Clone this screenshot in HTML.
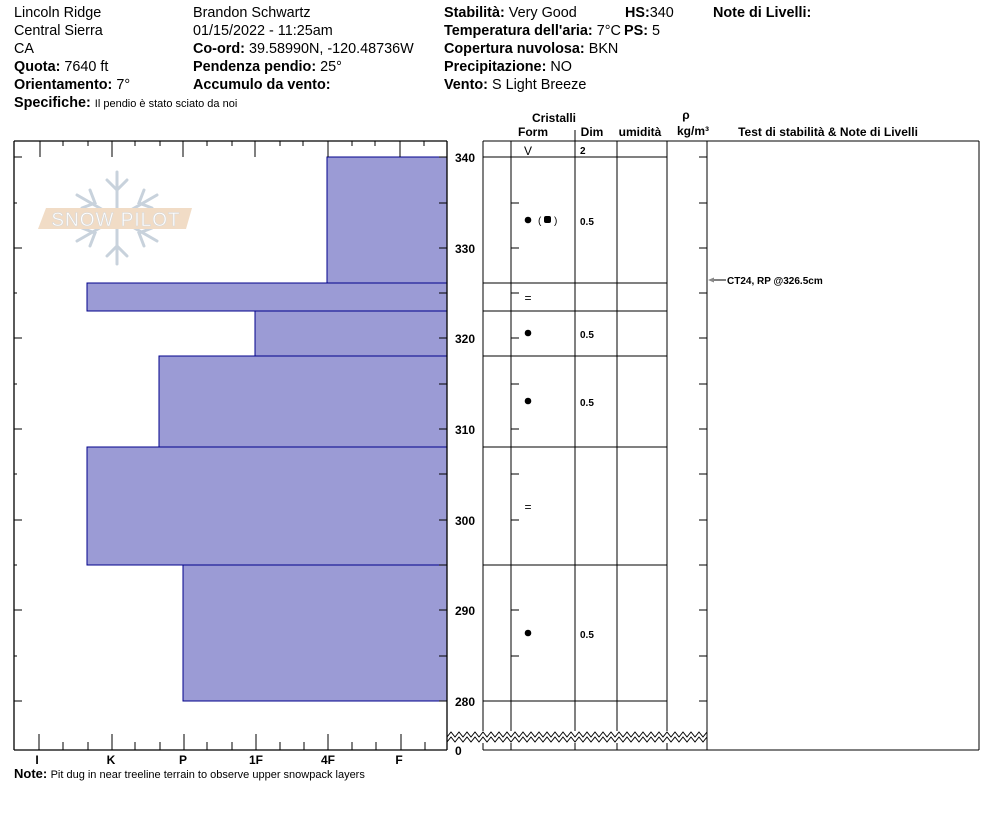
<!DOCTYPE html>
<html><head><meta charset="utf-8"><style>
body{margin:0;background:#fff}
svg{display:block}
text{font-family:"Liberation Sans",Arial,sans-serif;fill:#000}
.h{font-size:14.4px}
.b{font-weight:bold}
.ax{font-size:12px;font-weight:bold}
.s{font-size:10px;font-weight:bold}
</style></head><body>
<svg width="994" height="840" viewBox="0 0 994 840" xmlns="http://www.w3.org/2000/svg">
<g class="h">
<text x="14" y="17" class="h">Lincoln Ridge</text>
<text x="14" y="35" class="h">Central Sierra</text>
<text x="14" y="53" class="h">CA</text>
<text x="14" y="71" class="h"><tspan class="b">Quota:</tspan> 7640 ft</text>
<text x="14" y="89" class="h"><tspan class="b">Orientamento:</tspan> 7°</text>
<text x="14" y="107" class="h"><tspan class="b">Specifiche:</tspan> <tspan style="font-size:11px">Il pendio è stato sciato da noi</tspan></text>
<text x="193" y="17" class="h">Brandon Schwartz</text>
<text x="193" y="35" class="h">01/15/2022 - 11:25am</text>
<text x="193" y="53" class="h"><tspan class="b">Co-ord:</tspan> 39.58990N, -120.48736W</text>
<text x="193" y="71" class="h"><tspan class="b">Pendenza pendio:</tspan> 25°</text>
<text x="193" y="89" class="h"><tspan class="b">Accumulo da vento:</tspan></text>
<text x="444" y="17" class="h"><tspan class="b">Stabilità:</tspan> Very Good</text>
<text x="444" y="35" class="h"><tspan class="b">Temperatura dell'aria:</tspan> 7°C</text>
<text x="444" y="53" class="h"><tspan class="b">Copertura nuvolosa:</tspan> BKN</text>
<text x="444" y="71" class="h"><tspan class="b">Precipitazione:</tspan> NO</text>
<text x="444" y="89" class="h"><tspan class="b">Vento:</tspan>  S Light Breeze</text>
<text x="625" y="17" class="h"><tspan class="b">HS:</tspan>340</text>
<text x="624" y="35" class="h"><tspan class="b">PS:</tspan> 5</text>
<text x="713" y="17" class="h b">Note di Livelli:</text>
</g>
<!-- logo -->
<g stroke="#c8d2dc" stroke-width="3" fill="none" stroke-linecap="round">
<line x1="117" y1="172" x2="117" y2="264"/>
<line x1="77" y1="195" x2="157" y2="241"/>
<line x1="77" y1="241" x2="157" y2="195"/>
<path d="M107 180 L117 190 L127 180 M107 256 L117 246 L127 256 M82 208 L95 203 L90 190 M152 228 L139 233 L144 246 M82 228 L95 233 L90 246 M152 208 L139 203 L144 190"/>
</g>
<polygon points="46,208 192,208 186,229 38,229" fill="#f1dcc6"/>
<text x="116" y="226" text-anchor="middle" style="font-size:19px;fill:#fff;stroke:#d8d8d8;stroke-width:0.6;letter-spacing:1px">SNOW PILOT</text>
<g fill="#9b9bd5" stroke="#00008b" stroke-width="1">
<rect x="327" y="157" width="120" height="126"/>
<rect x="87" y="283" width="360" height="28"/>
<rect x="255" y="311" width="192" height="45"/>
<rect x="159" y="356" width="288" height="91"/>
<rect x="87" y="447" width="360" height="118"/>
<rect x="183" y="565" width="264" height="136"/>
</g>
<g stroke="#000" stroke-width="1.3" fill="none">
<line x1="14" y1="141" x2="447" y2="141"/>
<line x1="14" y1="141" x2="14" y2="750"/>
<line x1="447" y1="141" x2="447" y2="750"/>
<line x1="14" y1="750" x2="447" y2="750"/>
</g>
<g stroke="#000" stroke-width="1">
<path d="M40 141v16M63 141v5M88 141v5M112 141v16M135 141v5M160 141v5M183 141v16M207 141v5M232 141v5M255 141v16M280 141v5M303 141v5M328 141v16M352 141v5M375 141v5M400 141v16M424 141v5"/>
<path d="M39 750v-16M63 750v-8M88 750v-8M112 750v-16M135 750v-8M160 750v-8M184 750v-16M207 750v-8M232 750v-8M256 750v-16M280 750v-8M304 750v-8M328 750v-16M352 750v-8M376 750v-8M401 750v-16M425 750v-8"/>
<path d="M14 157h8M14 203h3M14 248h8M14 293h3M14 338h8M14 384h3M14 429h8M14 474h3M14 520h8M14 565h3M14 610h8M14 656h3M14 701h8
M447 157h-8M447 203h-8M447 248h-8M447 293h-8M447 338h-8M447 384h-8M447 429h-8M447 474h-8M447 520h-8M447 565h-8M447 610h-8M447 656h-8M447 701h-8
M511 157h8M511 203h8M511 248h8M511 293h8M511 338h8M511 384h8M511 429h8M511 474h8M511 520h8M511 565h8M511 610h8M511 656h8M511 701h8
M707 157h-8M707 203h-8M707 248h-8M707 293h-8M707 338h-8M707 384h-8M707 429h-8M707 474h-8M707 520h-8M707 565h-8M707 610h-8M707 656h-8M707 701h-8"/>
</g>
<g class="ax">
<text x="37" y="764" text-anchor="middle" class="ax">I</text>
<text x="111" y="764" text-anchor="middle" class="ax">K</text>
<text x="183" y="764" text-anchor="middle" class="ax">P</text>
<text x="256" y="764" text-anchor="middle" class="ax">1F</text>
<text x="328" y="764" text-anchor="middle" class="ax">4F</text>
<text x="399" y="764" text-anchor="middle" class="ax">F</text>
<text x="455" y="162" class="ax">340</text>
<text x="455" y="253" class="ax">330</text>
<text x="455" y="343" class="ax">320</text>
<text x="455" y="434" class="ax">310</text>
<text x="455" y="525" class="ax">300</text>
<text x="455" y="615" class="ax">290</text>
<text x="455" y="706" class="ax">280</text>
<text x="455" y="755" class="ax">0</text>
</g>
<text x="14" y="778" style="font-size:12px"><tspan class="b" style="font-size:13px">Note:</tspan> <tspan style="font-size:11px">Pit dug in near treeline terrain to observe upper snowpack layers</tspan></text>
<g stroke="#000" stroke-width="1" fill="none">
<line x1="483" y1="141" x2="979" y2="141"/>
<line x1="483" y1="750" x2="979" y2="750"/>
<line x1="483" y1="141" x2="483" y2="750"/>
<line x1="511" y1="141" x2="511" y2="750"/>
<line x1="575" y1="130" x2="575" y2="750"/>
<line x1="617" y1="141" x2="617" y2="750"/>
<line x1="667" y1="141" x2="667" y2="750"/>
<line x1="707" y1="141" x2="707" y2="750"/>
<line x1="979" y1="141" x2="979" y2="750"/>
<path d="M483 157H667M483 283H667M483 311H667M483 356H667M483 447H667M483 565H667M483 701H667"/>
</g>
<rect x="448" y="731" width="258" height="12" fill="#fff"/>
<g stroke="#000" stroke-width="1" fill="none">
<polyline points="447,737 451,732 455,737 459,732 463,737 467,732 471,737 475,732 479,737 483,732 487,737 491,732 495,737 499,732 503,737 507,732 511,737 515,732 519,737 523,732 527,737 531,732 535,737 539,732 543,737 547,732 551,737 555,732 559,737 563,732 567,737 571,732 575,737 579,732 583,737 587,732 591,737 595,732 599,737 603,732 607,737 611,732 615,737 619,732 623,737 627,732 631,737 635,732 639,737 643,732 647,737 651,732 655,737 659,732 663,737 667,732 671,737 675,732 679,737 683,732 687,737 691,732 695,737 699,732 703,737 707,732"/>
<polyline points="447,742 451,737 455,742 459,737 463,742 467,737 471,742 475,737 479,742 483,737 487,742 491,737 495,742 499,737 503,742 507,737 511,742 515,737 519,742 523,737 527,742 531,737 535,742 539,737 543,742 547,737 551,742 555,737 559,742 563,737 567,742 571,737 575,742 579,737 583,742 587,737 591,742 595,737 599,742 603,737 607,742 611,737 615,742 619,737 623,742 627,737 631,742 635,737 639,742 643,737 647,742 651,737 655,742 659,737 663,742 667,737 671,742 675,737 679,742 683,737 687,742 691,737 695,742 699,737 703,742 707,737"/>
</g>
<g>
<text x="554" y="122" text-anchor="middle" style="font-size:12px;font-weight:bold">Cristalli</text>
<text x="533" y="136" text-anchor="middle" style="font-size:12px;font-weight:bold">Form</text>
<text x="592" y="136" text-anchor="middle" style="font-size:12px;font-weight:bold">Dim</text>
<text x="640" y="136" text-anchor="middle" style="font-size:12px;font-weight:bold">umidità</text>
<text x="686" y="119" text-anchor="middle" style="font-size:12px;font-weight:bold">ρ</text>
<text x="693" y="135" text-anchor="middle" style="font-size:12px;font-weight:bold">kg/m³</text>
<text x="828" y="136" text-anchor="middle" style="font-size:12px;font-weight:bold">Test di stabilità &amp; Note di Livelli</text>
</g>
<text x="528" y="155" text-anchor="middle" style="font-size:12px">V</text>
<text x="580" y="154" class="s">2</text>
<circle cx="528" cy="220" r="3.3" fill="#000"/>
<text x="538" y="224" style="font-size:10px">( </text>
<rect x="544" y="216" width="7" height="7" rx="2" fill="#000"/>
<text x="554" y="224" style="font-size:10px">)</text>
<text x="580" y="225" class="s">0.5</text>
<text x="528" y="302" text-anchor="middle" style="font-size:12px">=</text>
<circle cx="528" cy="333" r="3.3" fill="#000"/>
<text x="580" y="338" class="s">0.5</text>
<circle cx="528" cy="401" r="3.3" fill="#000"/>
<text x="580" y="406" class="s">0.5</text>
<text x="528" y="511" text-anchor="middle" style="font-size:12px">=</text>
<circle cx="528" cy="633" r="3.3" fill="#000"/>
<text x="580" y="638" class="s">0.5</text>
<line x1="710" y1="280" x2="726" y2="280" stroke="#000" stroke-width="1"/>
<polygon points="708,280 714,277.5 714,282.5" fill="#888"/>
<text x="727" y="284" class="s">CT24, RP @326.5cm</text>
</svg>
</body></html>
